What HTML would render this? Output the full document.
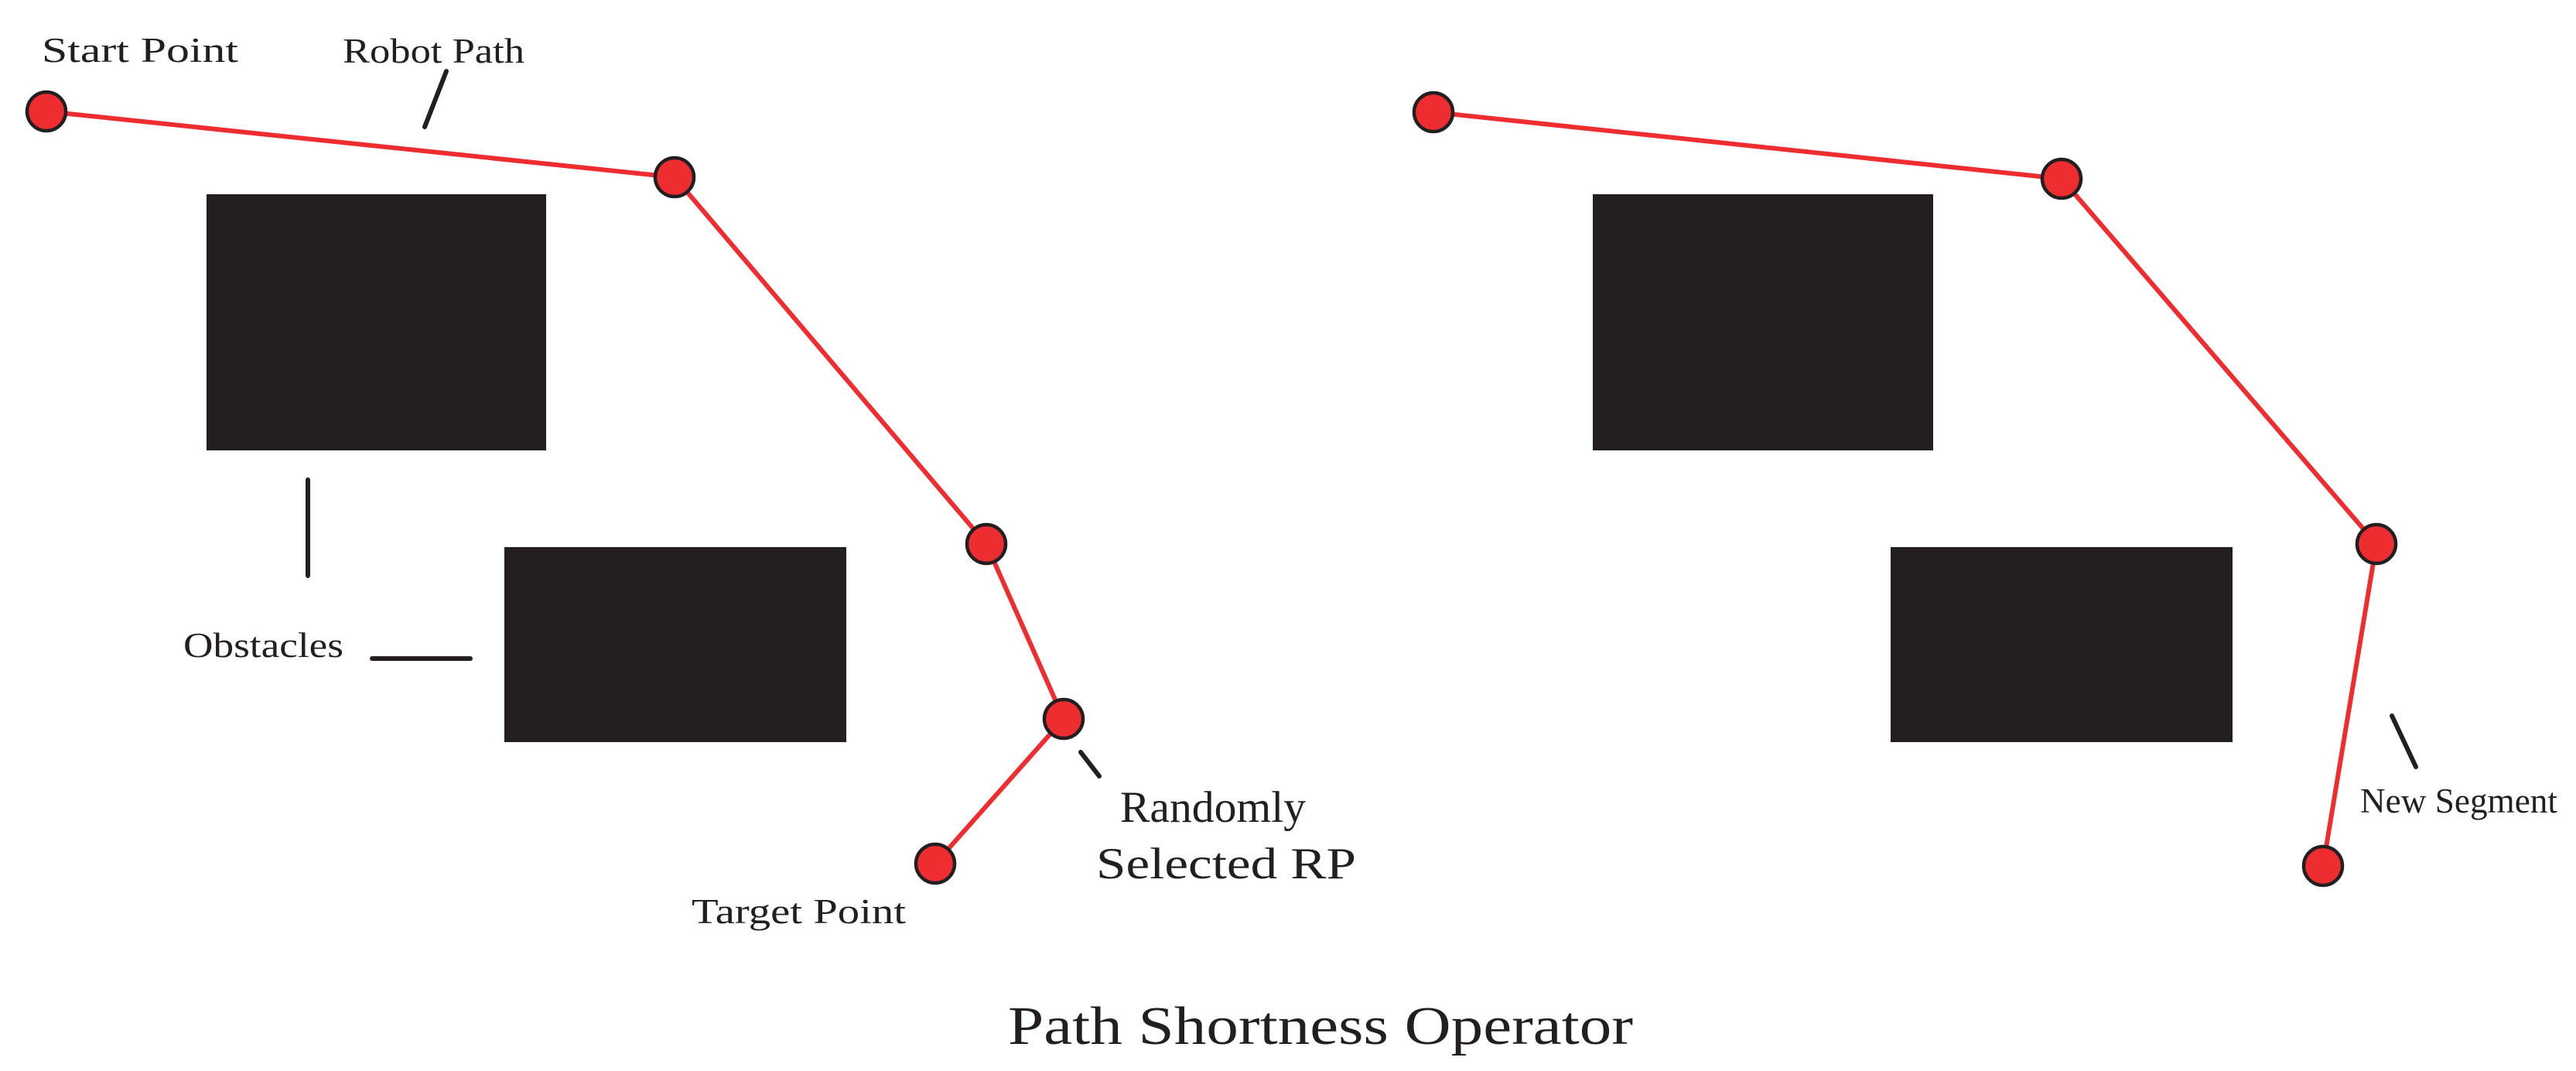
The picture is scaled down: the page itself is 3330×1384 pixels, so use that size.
<!DOCTYPE html>
<html><head><meta charset="utf-8"><style>html,body{margin:0;padding:0;background:#fff}svg{display:block}</style></head>
<body>
<svg width="3330" height="1384" viewBox="0 0 3330 1384" xmlns="http://www.w3.org/2000/svg">
<g fill="#231f20">
<rect x="267" y="251" width="439" height="331"/>
<rect x="652" y="707" width="442" height="252"/>
<rect x="2059" y="251" width="440" height="331"/>
<rect x="2444" y="707" width="442" height="252"/>
</g>
<g stroke="#231f20" stroke-width="6" stroke-linecap="round">
<line x1="577" y1="92" x2="549" y2="164"/>
<line x1="398" y1="620" x2="398" y2="744"/>
<line x1="481" y1="851" x2="608" y2="851"/>
<line x1="1397" y1="972" x2="1421" y2="1003"/>
<line x1="3092" y1="925" x2="3123" y2="991"/>
</g>
<g stroke="#ee2d30" stroke-width="6" fill="none" stroke-linejoin="round">
<polyline points="60,144 872,229 1275,703 1375,929 1209,1116"/>
<polyline points="1853,145 2665,231 3072,703 3003,1119"/>
</g>
<g fill="#ee2d30" stroke="#231f20" stroke-width="4.5">
<circle cx="60" cy="144" r="25"/>
<circle cx="872" cy="229" r="25"/>
<circle cx="1275" cy="703" r="25"/>
<circle cx="1375" cy="929" r="25"/>
<circle cx="1209" cy="1116" r="25"/>
<circle cx="1853" cy="145" r="25"/>
<circle cx="2665" cy="231" r="25"/>
<circle cx="3072" cy="703" r="25"/>
<circle cx="3003" cy="1119" r="25"/>
</g>
<g fill="#231f20" font-family="'Liberation Serif', serif">
<text x="54" y="80" font-size="45" textLength="254" lengthAdjust="spacingAndGlyphs">Start Point</text>
<text x="443" y="81" font-size="45" textLength="235" lengthAdjust="spacingAndGlyphs">Robot Path</text>
<text x="237" y="849" font-size="45" textLength="207" lengthAdjust="spacingAndGlyphs">Obstacles</text>
<text x="894" y="1193" font-size="45" textLength="277" lengthAdjust="spacingAndGlyphs">Target Point</text>
<text x="1448" y="1062" font-size="57" textLength="240" lengthAdjust="spacingAndGlyphs">Randomly</text>
<text x="1417" y="1135" font-size="57" textLength="336" lengthAdjust="spacingAndGlyphs">Selected RP</text>
<text x="3051" y="1050" font-size="45" textLength="255" lengthAdjust="spacingAndGlyphs">New Segment</text>
<text x="1303" y="1349" font-size="70" textLength="808" lengthAdjust="spacingAndGlyphs">Path Shortness Operator</text>
</g>
</svg>
</body></html>
